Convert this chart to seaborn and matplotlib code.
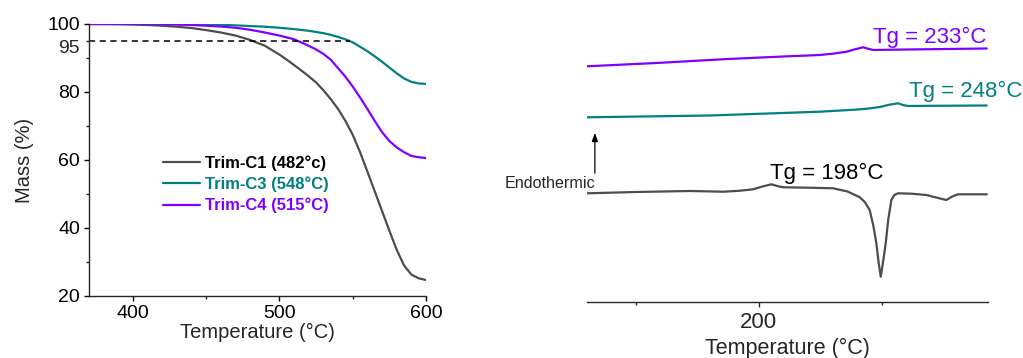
import matplotlib
matplotlib.use("Agg")
import matplotlib.pyplot as plt
import seaborn as sns
import pandas as pd
from matplotlib.ticker import FixedLocator, NullFormatter

# ---------------- TGA data (left) ----------------
tga_temp_c1 = [370, 380, 390, 400, 410, 420, 430, 440, 450, 460, 470, 480, 490, 500,
               505, 510, 515, 520, 525, 530, 535, 540, 545, 550, 555, 560, 565, 570,
               575, 580, 585, 590, 595, 600]
tga_mass_c1 = [100, 100, 99.95, 99.85, 99.7, 99.5, 99.2, 98.8, 98.2, 97.5, 96.6, 95.3, 93.6, 91.0,
               89.5, 87.9, 86.3, 84.6, 82.8, 80.5, 77.9, 75.0, 71.5, 67.4, 62.3, 56.6, 50.8, 45.0,
               39.2, 33.6, 29.0, 26.3, 25.2, 24.7]

tga_temp_c3 = [370, 400, 440, 450, 460, 470, 480, 490, 500, 510, 520, 530, 535, 540, 545, 550,
               555, 560, 565, 570, 575, 580, 585, 590, 595, 600]
tga_mass_c3 = [100, 100, 99.9, 99.85, 99.75, 99.6, 99.4, 99.2, 98.9, 98.5, 98.0, 97.3, 96.8, 96.2, 95.5, 94.6,
               93.3, 92.0, 90.5, 88.9, 87.2, 85.5, 84.0, 83.0, 82.5, 82.4]

tga_temp_c4 = [370, 400, 420, 430, 440, 450, 460, 470, 480, 490, 500, 510, 520, 525, 530,
               535, 540, 545, 550, 555, 560, 565, 570, 575, 580, 585, 590, 595, 600]
tga_mass_c4 = [100, 100, 99.95, 99.85, 99.7, 99.5, 99.25, 98.9, 98.3, 97.5, 96.6, 95.5, 93.6, 92.5, 91.2,
               89.5, 87.0, 84.5, 81.6, 78.4, 75.0, 71.5, 68.2, 65.6, 63.7, 62.3, 61.2, 60.8, 60.6]

tga_labels = ["Trim-C1 (482°c)", "Trim-C3 (548°C)", "Trim-C4 (515°C)"]

# ---------------- DSC data (right, arbitrary units, offset curves) ----------------
dsc_temp_c4 = [130.3, 160, 187.4, 210, 224.7, 230, 235.6, 239.5, 242.3, 244.5, 246.4, 260, 292.5]
dsc_sig_c4 = [235.7, 239.2, 243.0, 245.5, 247.0, 248.3, 250.3, 253.0, 254.7, 253.2, 252.0, 252.5, 253.5]

dsc_temp_c3 = [130.3, 180, 224.7, 238.2, 244, 249.1, 253, 256.5, 258.5, 260.6, 270, 292.5]
dsc_sig_c3 = [184.7, 186.5, 190.3, 192.2, 193.3, 195.0, 197.3, 198.7, 197.0, 196.0, 196.2, 196.5]

dsc_temp_c1 = [130.3, 150, 172, 185.6, 192, 197.7, 201.5, 205.1, 207.5, 209.9, 220, 230.2,
               236, 241, 243, 245, 246.5, 247.7, 248.7, 249.5, 250.3, 251.5, 252.5,
               253.8, 255, 256.5, 262, 268, 272, 276.1, 278.5, 280.8, 292.5]
dsc_sig_c1 = [108.7, 110.0, 111.0, 110.3, 111.2, 112.7, 115.5, 117.7, 116.0, 114.7, 114.3, 113.7,
              110.5, 104.7, 100.0, 92.0, 76.0, 58.7, 38.0, 25.3, 38.0, 58.7, 82.0,
              102.0, 107.0, 108.7, 108.3, 107.0, 104.5, 102.0, 105.5, 107.7, 107.7]

dsc_notes = ["Tg = 233°C", "Tg = 248°C", "Tg = 198°C"]

# ---------------- styling ----------------
sns.set_style("ticks")
plt.rcParams["font.family"] = ["Liberation Sans", "DejaVu Sans"]
plt.rcParams["axes.linewidth"] = 1.0

c_gray = "#4d4d4d"
c_teal = "#008080"
c_purple = "#8000ff"

fig = plt.figure(figsize=(10.23, 3.58), dpi=100)

# ---------------- left: TGA ----------------
ax1 = fig.add_axes([89 / 1023, (358 - 296) / 358, 337 / 1023, 272 / 358])
tga_df = pd.concat([
    pd.DataFrame({"T": tga_temp_c1, "m": tga_mass_c1, "s": tga_labels[0]}),
    pd.DataFrame({"T": tga_temp_c3, "m": tga_mass_c3, "s": tga_labels[1]}),
    pd.DataFrame({"T": tga_temp_c4, "m": tga_mass_c4, "s": tga_labels[2]}),
])
sns.lineplot(data=tga_df, x="T", y="m", hue="s", ax=ax1,
             palette=[c_gray, c_teal, c_purple], linewidth=1.6, sort=False)
ax1.plot([370, 548], [95, 95], ls=(0, (4, 3)), color="black", lw=1.1)
ax1.set_xlim(370, 600)
ax1.set_ylim(20, 100)
sns.despine(ax=ax1)
ax1.set_xticks([400, 500, 600])
ax1.xaxis.set_minor_locator(FixedLocator([450, 550]))
ax1.set_yticks([20, 40, 60, 80, 100])
ax1.yaxis.set_minor_locator(FixedLocator([30, 50, 70, 90, 95]))
ax1.tick_params(which="major", length=3.5, width=1.0, labelsize=14, pad=3, colors="black")
ax1.tick_params(which="minor", length=2, width=1.0)
ax1.annotate("95", xy=(0, 95), xycoords=("axes fraction", "data"), xytext=(-6.5, -5.5),
             textcoords="offset points", ha="right", va="center", fontsize=14)
ax1.set_xlabel("Temperature (°C)", fontsize=14.5, labelpad=1)
ax1.set_ylabel("Mass (%)", fontsize=14.5, labelpad=9.5)
leg = ax1.legend(loc="upper left", bbox_to_anchor=((163 - 89) / 337, (296 - 155) / 272),
                 frameon=False, fontsize=12, handlelength=2.2, handletextpad=0.3,
                 labelspacing=0.35, borderpad=0, borderaxespad=0)
for txt, col in zip(leg.get_texts(), ["black", c_teal, c_purple]):
    txt.set_color(col)
    txt.set_fontweight("bold")

# ---------------- right: DSC ----------------
ax2 = fig.add_axes([587 / 1023, (358 - 302) / 358, 401 / 1023, 278 / 358])
dsc_df = pd.concat([
    pd.DataFrame({"T": dsc_temp_c4, "q": dsc_sig_c4, "s": "C4"}),
    pd.DataFrame({"T": dsc_temp_c3, "q": dsc_sig_c3, "s": "C3"}),
    pd.DataFrame({"T": dsc_temp_c1, "q": dsc_sig_c1, "s": "C1"}),
])
sns.lineplot(data=dsc_df, x="T", y="q", hue="s", ax=ax2,
             palette=[c_purple, c_teal, c_gray], linewidth=1.6, sort=False, legend=False)
ax2.set_xlim(130.3, 293)
ax2.set_ylim(0, 278)
for sp in ["left", "top", "right"]:
    ax2.spines[sp].set_visible(False)
ax2.set_yticks([])
ax2.set_xticks([200])
ax2.xaxis.set_minor_locator(FixedLocator([150, 250]))
ax2.xaxis.set_minor_formatter(NullFormatter())
ax2.tick_params(which="major", length=3.5, width=1.0, labelsize=16, pad=4)
ax2.tick_params(which="minor", length=2.5, width=1.0)
ax2.set_xlabel("Temperature (°C)", fontsize=15.5, labelpad=3)
ax2.set_ylabel("")

ax2.text(292.5, 265, dsc_notes[0], color=c_purple, fontsize=16, ha="right", va="center")
ax2.text(261, 211, dsc_notes[1], color=c_teal, fontsize=16, ha="left", va="center")
ax2.text(204.5, 129, dsc_notes[2], color="black", fontsize=16, ha="left", va="center")
ax2.annotate("", xy=(133.5, 172), xytext=(133.5, 126),
             arrowprops=dict(arrowstyle="-|>,head_length=0.5,head_width=0.18", color="black", lw=0.9))
ax2.text(133.8, 118, "Endothermic", fontsize=11.6, ha="right", va="center", clip_on=False)

fig.savefig("out.png", dpi=100)
